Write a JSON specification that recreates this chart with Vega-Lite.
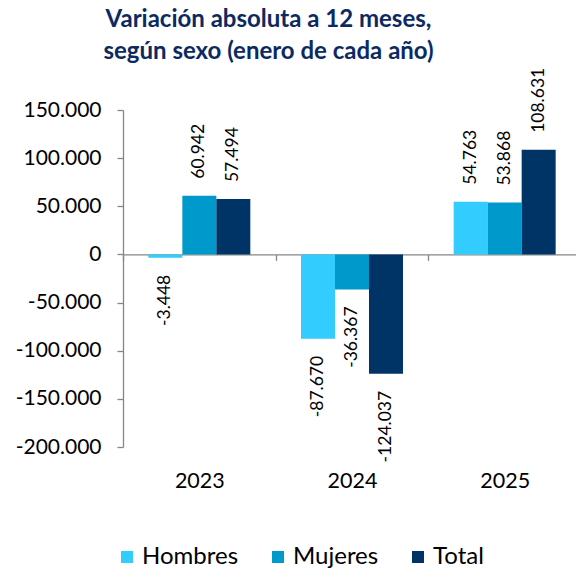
{
  "$schema": "https://vega.github.io/schema/vega-lite/v6.json",
  "autosize": {"type": "none"},
  "width": 453,
  "height": 337,
  "padding": {"left": 123, "top": 110, "right": 0, "bottom": 126},
  "config": {
    "view": {"stroke": null},
    "locale": {"number": {"decimal": ",", "thousands": ".", "grouping": [3], "currency": ["", " €"], "minus": "-"}},
    "font": "Lato"
  },
  "title": {
    "text": ["Variación absoluta a 12 meses,", "según sexo (enero de cada año)"],
    "font": "Lato",
    "fontSize": 24,
    "fontWeight": "bold",
    "color": "#0b2a63",
    "anchor": "middle",
    "dx": -81,
    "lineHeight": 32,
    "offset": 4
  },
  "data": {
    "values": [
      {"year": "2023", "serie": "Hombres", "value": -3448},
      {"year": "2023", "serie": "Mujeres", "value": 60942},
      {"year": "2023", "serie": "Total", "value": 57494},
      {"year": "2024", "serie": "Hombres", "value": -87670},
      {"year": "2024", "serie": "Mujeres", "value": -36367},
      {"year": "2024", "serie": "Total", "value": -124037},
      {"year": "2025", "serie": "Hombres", "value": 54763},
      {"year": "2025", "serie": "Mujeres", "value": 53868},
      {"year": "2025", "serie": "Total", "value": 108631}
    ]
  },
  "encoding": {
    "x": {
      "field": "year",
      "type": "nominal",
      "scale": {"paddingInner": 0.332, "paddingOuter": 0.166, "range": [0, 458]},
      "axis": {
        "title": null,
        "labelAngle": 0,
        "labelFont": "Lato",
        "labelFontSize": 21.5,
        "labelColor": "#000000",
        "domainColor": "#868686",
        "domainWidth": 1.3,
        "tickColor": "#868686",
        "tickWidth": 1.3,
        "tickSize": 6,
        "tickOffset": -76.3,
        "labelOffset": 76.3,
        "offset": -192.6,
        "labelPadding": 210
      }
    },
    "xOffset": {"field": "serie", "type": "nominal", "sort": ["Hombres", "Mujeres", "Total"]},
    "y": {
      "field": "value",
      "type": "quantitative",
      "scale": {"domain": [-200000, 150000], "nice": false},
      "axis": {
        "title": null,
        "values": [-200000, -150000, -100000, -50000, 0, 50000, 100000, 150000],
        "format": ",d",
        "grid": false,
        "labelFont": "Lato",
        "labelFontSize": 21,
        "labelColor": "#000000",
        "domainColor": "#868686",
        "domainWidth": 1.3,
        "tickColor": "#868686",
        "tickWidth": 1.3,
        "tickSize": 6,
        "labelPadding": 16
      }
    }
  },
  "layer": [
    {
      "mark": {"type": "bar"},
      "encoding": {
        "color": {
          "field": "serie",
          "type": "nominal",
          "scale": {"domain": ["Hombres", "Mujeres", "Total"], "range": ["#33CCFF", "#0099CC", "#003366"]},
          "legend": {
            "title": null,
            "orient": "none",
            "direction": "horizontal",
            "legendX": -8,
            "legendY": 435,
            "symbolType": "square",
            "symbolSize": 144,
            "symbolStrokeWidth": 0,
            "labelFont": "Lato",
            "labelFontSize": 24,
            "labelColor": "#000000",
            "labelOffset": 3,
            "columnPadding": 27
          }
        }
      }
    },
    {
      "transform": [{"filter": "datum.value >= 0"}],
      "mark": {"type": "text", "angle": 270, "align": "left", "baseline": "middle", "dx": 17, "fontSize": 17.5, "font": "Lato", "color": "#000000"},
      "encoding": {"text": {"field": "value", "type": "quantitative", "format": ",d"}}
    },
    {
      "transform": [{"filter": "datum.value < 0"}],
      "mark": {"type": "text", "angle": 270, "align": "right", "baseline": "middle", "dx": -17, "fontSize": 17.5, "font": "Lato", "color": "#000000"},
      "encoding": {"text": {"field": "value", "type": "quantitative", "format": ",d"}}
    }
  ]
}
